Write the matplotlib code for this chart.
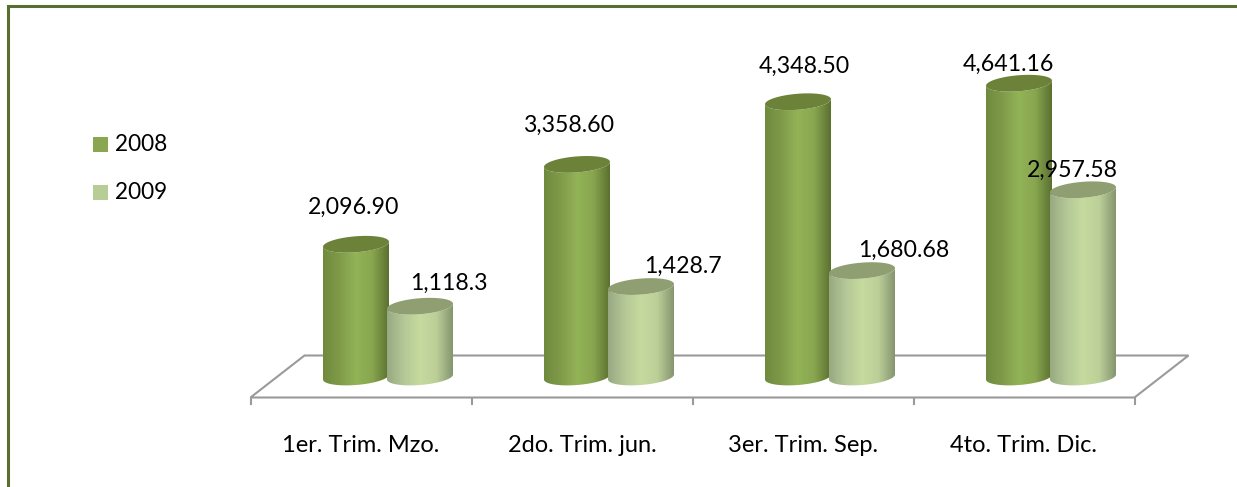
import numpy as np
import matplotlib
matplotlib.use("Agg")
import matplotlib.pyplot as plt
from matplotlib.colors import LinearSegmentedColormap
from matplotlib.patches import PathPatch, Polygon, Rectangle
from matplotlib.path import Path

plt.rcParams['font.family'] = ['Lato', 'DejaVu Sans']

trimestres = ['1er. Trim. Mzo.', '2do. Trim. jun.', '3er. Trim. Sep.', '4to. Trim. Dic.']
valores_2008 = [2096.90, 3358.60, 4348.50, 4641.16]
valores_2009 = [1118.3, 1428.7, 1680.68, 2957.58]
etiquetas_2008 = ['2,096.90', '3,358.60', '4,348.50', '4,641.16']
etiquetas_2009 = ['1,118.3', '1,428.7', '1,680.68', '2,957.58']

W, H = 1237, 487
X0, PASO = 388, 221      # pixel del centro del primer grupo, pixeles por categoria
Y0, ESCALA = 377, 0.0633  # pixel de la base, pixeles por unidad

fig = plt.figure(figsize=(W / 100, H / 100), dpi=100)
ax = fig.add_axes([0, 0, 1, 1])
ax.axis('off')


def px(x, y):
    # pasar de pixeles de la imagen a unidades de datos
    return (x - X0) / PASO, (Y0 - y) / ESCALA


def elipse(cx, v, t):
    x = cx + (33 / PASO) * np.cos(t)
    y = v + (2.5 * np.cos(t) + 8 * np.sin(t)) / ESCALA
    return x, y


def cilindro(cx, v, colores, tapa, z):
    t_abajo = np.linspace(np.pi, 2 * np.pi, 40)
    t_todo = np.linspace(0, 2 * np.pi, 80)
    xb, yb = elipse(cx, 0, t_abajo)
    xt, yt = elipse(cx, v, t_abajo[::-1])
    cuerpo = np.column_stack([np.r_[xb, xt], np.r_[yb, yt]])
    grad = LinearSegmentedColormap.from_list('g', colores)
    ancho = 33 / PASO
    im = ax.imshow(np.linspace(0, 1, 200).reshape(1, -1), cmap=grad, aspect='auto',
                   extent=[cx - ancho, cx + ancho, -400, 6000], zorder=z)
    clip = PathPatch(Path(cuerpo), transform=ax.transData, fc='none', ec='none')
    ax.add_patch(clip)
    im.set_clip_path(clip)
    xc, yc = elipse(cx, v, t_todo)
    ax.add_patch(Polygon(np.column_stack([xc, yc]), closed=True, fc=tapa, ec='none', zorder=z + 0.1))


# piso en perspectiva
gris = '#9a9a9a'
bordes = np.arange(len(trimestres) + 1) - 0.5
frente_y = 397.5
fondo_y = 355.5
for b in bordes:
    xf = X0 + b * PASO - 27
    xs, ys = px(xf, frente_y)
    xe, ye = px(xf, 404)
    ax.plot([xs, xe], [ys, ye], color=gris, lw=1.5, zorder=1)
esquinas = [(X0 + bordes[0] * PASO - 27, frente_y), (X0 + bordes[0] * PASO + 27, fondo_y),
            (X0 + bordes[-1] * PASO + 27, fondo_y), (X0 + bordes[-1] * PASO - 27, frente_y)]
ax.add_patch(Polygon([px(a, b) for a, b in esquinas], closed=True, fc='white', ec=gris, lw=1.5, zorder=1))

# cilindros
colores_2008 = ['#6f8a3e', '#7f9b49', '#93b357', '#88a64f', '#5b7130']
colores_2009 = ['#98a982', '#b4c796', '#c6da9f', '#bccf98', '#85966f']
desp = 32 / PASO
for i in range(len(trimestres)):
    cilindro(i - desp, valores_2008[i], colores_2008, '#6c8239', 2 + i)
    cilindro(i + desp, valores_2009[i], colores_2009, '#8f9f72', 2.5 + i)

# etiquetas de valores (desplazamiento en pixeles respecto a la tapa)
despl_2008 = [(-2, 37), (-8, 39), (6, 35), (-11, 19)]
despl_2009 = [(29, 23), (42, 20), (42, 20), (-11, 19)]
for i in range(len(trimestres)):
    ax.annotate(etiquetas_2008[i], (i - desp, valores_2008[i]), xytext=(despl_2008[i][0] * 0.72, despl_2008[i][1] * 0.72),
                textcoords='offset points', ha='center', va='center', fontsize=16.7, color='black', zorder=20)
    ax.annotate(etiquetas_2009[i], (i + desp, valores_2009[i]), xytext=(despl_2009[i][0] * 0.72, despl_2009[i][1] * 0.72),
                textcoords='offset points', ha='center', va='center', fontsize=16.7, color='black', zorder=20)

# categorias
for i, nombre in enumerate(trimestres):
    x, y = px(X0 + i * PASO - 27, 445)
    ax.text(x, y, nombre, ha='center', va='center', fontsize=17, color='black')

# leyenda
for nombre, color, yl in [('2008', '#8aa651', 144.5), ('2009', '#b8cd95', 192.5)]:
    xa, ya = px(93, yl + 7.5)
    ax.add_patch(Rectangle((xa, ya), 15 / PASO, 15 / ESCALA, fc=color, ec='none'))
    xt, yt = px(115, yl)
    ax.text(xt, yt, nombre, ha='left', va='center', fontsize=16.3, color='black')

# marco: solo arriba y a la izquierda
xa, ya = px(8, 487)
xb, yb = px(8, 6)
xc, yc = px(1237, 6)
ax.plot([xa, xb, xc], [ya, yb, yc], color='#5a6e32', lw=2.2, zorder=30, solid_joinstyle='miter')

ax.set_xlim((0 - X0) / PASO, (W - X0) / PASO)
ax.set_ylim((Y0 - H) / ESCALA, Y0 / ESCALA)

fig.savefig('out.png', dpi=100)
